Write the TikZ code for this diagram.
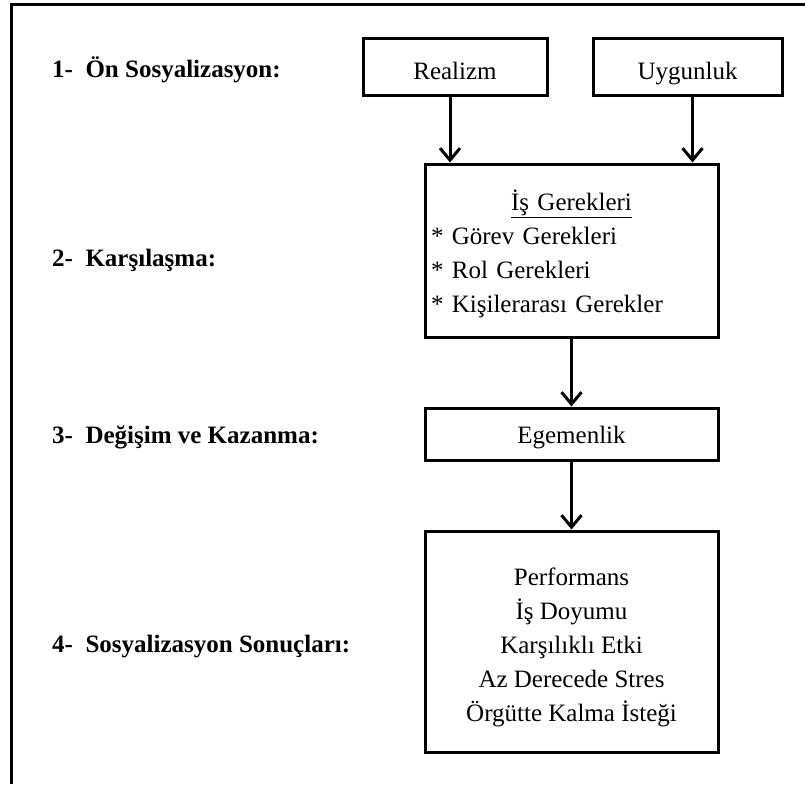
\documentclass[tikz,border=0pt]{standalone}
\usepackage{fontspec}
\setmainfont{Liberation Serif}
\usetikzlibrary{arrows.meta}

\newcommand{\yazi}{\fontsize{25}{34}\selectfont}

\begin{document}
\begin{tikzpicture}[x=1pt,y=-1pt,
    kutu/.style={draw,line width=3pt,inner sep=0pt,align=center,font=\yazi},
    tekkutu/.style={kutu,text depth=0pt},
    baslik/.style={anchor=west,inner sep=0pt,font=\yazi\bfseries},
    ok/.style={line width=3pt,-{Straight Barb[length=12pt,width=20pt,line width=3pt]}}]
      \useasboundingbox (0,0) rectangle (805,784);
      \draw [line width=3pt] (11,784) -- (11,5) -- (805,5);

      \node[baslik] (OnSosN) at (52,70)  {1-~~Ön Sosyalizasyon:};
      \node[baslik] (KarsN)  at (52,260) {2-~~Karşılaşma:};
      \node[baslik] (DegN)   at (52,437) {3-~~Değişim ve Kazanma:};
      \node[baslik] (SosN)   at (52,647) {4-~~Sosyalizasyon Sonuçları:};

      \node[tekkutu,text height=24pt,minimum width=184pt,minimum height=56pt] (RealN) at (455,67)   {Realizm};
      \node[tekkutu,text height=24pt,minimum width=189pt,minimum height=56pt] (UygN)  at (687.5,67) {Uygunluk};

      \node[kutu,minimum width=293pt,minimum height=173pt,
            text width=281pt,align=left,inner xsep=6pt] (IsN) at (571.5,250.5)
            {\rule{0pt}{27pt}\makebox[281pt]{\underline{İş Gerekleri}}\\
             {*} Görev Gerekleri\\
             {*} Rol Gerekleri\\
             {*} Kişilerarası Gerekler};

      \node[tekkutu,text height=18pt,minimum width=293pt,minimum height=52pt] (EgeN) at (571.5,434) {Egemenlik};

      \node[kutu,minimum width=293pt,minimum height=221pt] (SonucN) at (571.5,641.5)
            {\rule{0pt}{29pt}Performans\\İş Doyumu\\Karşılıklı Etki\\Az Derecede Stres\\Örgütte Kalma İsteği};

      \draw [ok] ([xshift=-5pt]RealN.south) -- ([xshift=-5pt]RealN.south |- IsN.north);
      \draw [ok] ([xshift=5pt]UygN.south)   -- ([xshift=5pt]UygN.south |- IsN.north);
      \draw [ok] (IsN.south)   -- (EgeN.north);
      \draw [ok] (EgeN.south)  -- (SonucN.north);
    \end{tikzpicture}
\end{document}
